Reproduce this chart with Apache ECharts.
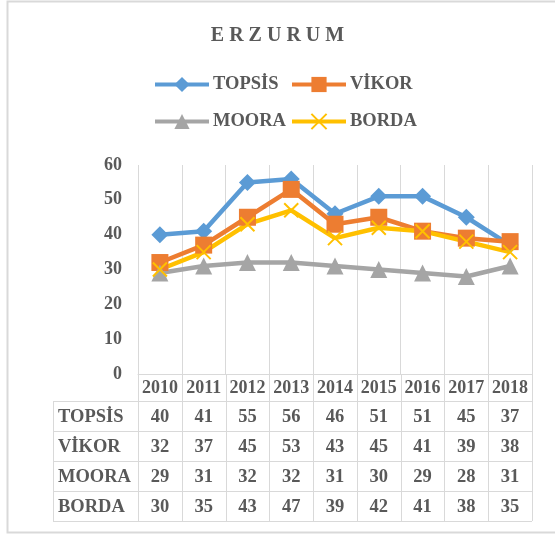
<!DOCTYPE html>
<html>
<head>
<meta charset="utf-8">
<script src="https://cdn.jsdelivr.net/npm/echarts@6/dist/echarts.min.js"></script>
<style>
  html, body { margin: 0; padding: 0; background: #fff; }
  #chart { width: 555px; height: 536px; }
</style>
</head>
<body>
<div id="chart"></div>
<script>
// data
const years = ['2010', '2011', '2012', '2013', '2014', '2015', '2016', '2017', '2018']
const names = ['TOPSİS', 'VİKOR', 'MOORA', 'BORDA']
const topsis = [40, 41, 55, 56, 46, 51, 51, 45, 37]
const vikor = [32, 37, 45, 53, 43, 45, 41, 39, 38]
const moora = [29, 31, 32, 32, 31, 30, 29, 28, 31]
const borda = [30, 35, 43, 47, 39, 42, 41, 38, 35]
const yTicks = [0, 60, 10] // min, max, step

const FONT = 'Liberation Serif'
const TXT = '#595959'
const GRID = '#d9d9d9'
const colors = ['#5B9BD5', '#ED7D31', '#A5A5A5', '#FFC000']
const symbols = ['diamond', 'rect', 'triangle', 'path://M0,0L10,10M10,0L0,10']
const symSizes = [17, 17, 17, 14]
const allData = [topsis, vikor, moora, borda]

const chart = echarts.init(document.getElementById('chart'))

const legendPos = [[153, 75], [290, 75], [153, 112], [290, 112]]

const option = {
  animation: false,
  title: {
    text: 'E R Z U R U M',
    left: 'center',
    top: 21,
    textStyle: { fontFamily: FONT, fontWeight: 'bold', fontSize: 20, color: TXT }
  },
  legend: names.map((n, i) => ({
    data: [n],
    left: legendPos[i][0],
    top: legendPos[i][1],
    padding: 0,
    itemWidth: 54,
    itemHeight: 19,
    itemGap: 0,
    lineStyle: { width: 4 },
    textStyle: { fontFamily: FONT, fontWeight: 'bold', fontSize: 18.5, color: TXT, padding: [0, 0, 0, -1] }
  })),
  grid: { left: 138, right: 23, top: 165, bottom: 162 },
  xAxis: {
    type: 'category',
    data: years,
    boundaryGap: true,
    axisLine: { lineStyle: { color: GRID, width: 1 } },
    axisTick: { show: false },
    splitLine: { show: true, interval: 0, lineStyle: { color: GRID, width: 1 } },
    axisLabel: { interval: 0, margin: 5, fontFamily: FONT, fontWeight: 'bold', fontSize: 18, color: TXT }
  },
  yAxis: {
    type: 'value',
    min: yTicks[0],
    max: yTicks[1],
    interval: yTicks[2],
    axisLine: { show: false },
    axisTick: { show: false },
    splitLine: { show: false },
    axisLabel: { margin: 16, fontFamily: FONT, fontWeight: 'bold', fontSize: 18, color: TXT }
  },
  series: names.map((n, i) => ({
    name: n,
    type: 'line',
    data: allData[i],
    symbol: symbols[i],
    symbolSize: symSizes[i],
    showAllSymbol: true,
    lineStyle: { color: colors[i], width: 4.5 },
    itemStyle: i === 3
      ? { color: colors[i], borderColor: colors[i], borderWidth: 2 }
      : { color: colors[i] }
  }))
}
chart.setOption(option)

// data table under the plot, laid out from the x axis scale
const x0 = chart.convertToPixel({ xAxisIndex: 0 }, years[0])
const x1 = chart.convertToPixel({ xAxisIndex: 0 }, years[1])
const band = x1 - x0
const left = x0 - band / 2
const right = left + band * years.length
const axisY = chart.convertToPixel({ yAxisIndex: 0 }, 0)
const headH = 27
const rowH = 30
const tableLeft = 53
const lineStyle = { stroke: GRID, lineWidth: 1 }
const els = []

// outer frame
els.push({ type: 'rect', shape: { x: 7.5, y: 1.5, width: 560, height: 531 }, style: { fill: null, stroke: GRID, lineWidth: 2 }, silent: true })

const rowTop = axisY + headH
const bottom = rowTop + rowH * names.length
// column lines through header and body
for (let k = 0; k <= years.length; k++) {
  const x = Math.round(left + band * k) + 0.5
  els.push({ type: 'line', shape: { x1: x, y1: axisY, x2: x, y2: bottom }, style: lineStyle, silent: true })
}
els.push({ type: 'line', shape: { x1: tableLeft + 0.5, y1: rowTop, x2: tableLeft + 0.5, y2: bottom }, style: lineStyle, silent: true })
for (let r = 0; r <= names.length; r++) {
  const y = Math.round(rowTop + rowH * r) + 0.5
  els.push({ type: 'line', shape: { x1: tableLeft, y1: y, x2: right, y2: y }, style: lineStyle, silent: true })
}
const txt = { fontFamily: FONT, fontWeight: 'bold', fontSize: 18.5, fill: TXT }
names.forEach((n, r) => {
  const cy = rowTop + rowH * r + rowH / 2 + 1
  els.push({ type: 'text', x: tableLeft + 5, y: cy, style: Object.assign({ text: n, verticalAlign: 'middle', align: 'left' }, txt), silent: true })
  allData[r].forEach((v, c) => {
    const cx = chart.convertToPixel({ xAxisIndex: 0 }, years[c])
    els.push({ type: 'text', x: cx, y: cy, style: Object.assign({ text: String(v), verticalAlign: 'middle', align: 'center' }, txt), silent: true })
  })
})
chart.setOption({ graphic: { elements: els } })
</script>
</body>
</html>
